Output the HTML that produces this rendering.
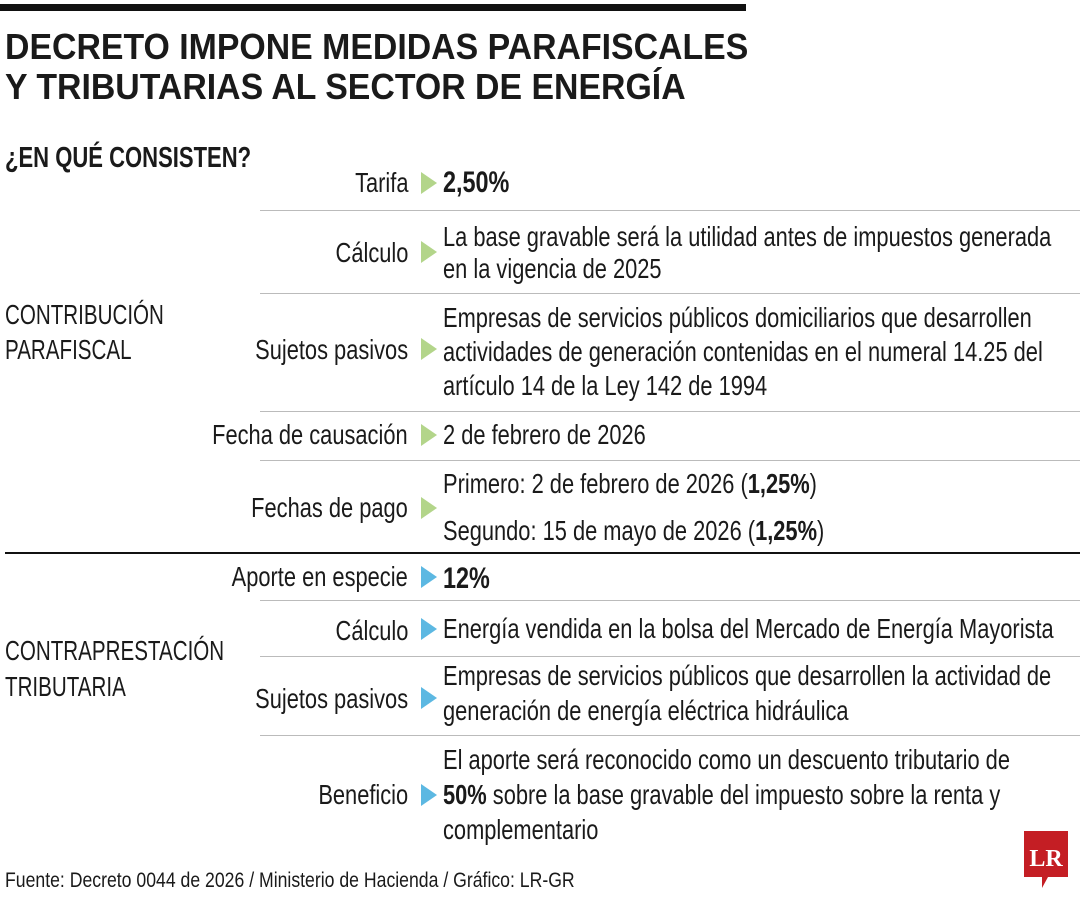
<!DOCTYPE html><html><head><meta charset="utf-8"><style>
body{margin:0;width:1080px;height:900px;background:#fff;position:relative;overflow:hidden;font-family:"Liberation Sans",sans-serif;color:#1a1a1a}
.t{position:absolute;white-space:nowrap;font-size:28px;line-height:34px;transform:scaleX(.78);transform-origin:0 50%}
.l{transform:scaleX(.735)}
.r{transform-origin:100% 50%;text-align:right}
.b{font-weight:bold}
.h{position:absolute;left:0;height:1px;background:#bbb}
.ag,.ab{position:absolute;left:421px;width:0;height:0;border-top:11px solid transparent;border-bottom:11px solid transparent;border-left:16px solid #b3d58a}
.ab{border-left-color:#5cb8e2}
</style></head><body>
<div style="position:absolute;left:0;top:4px;width:746px;height:7px;background:#111"></div>
<div class="t b" style="left:5px;top:26px;font-size:36px;line-height:42px;transform:scaleX(.94)">DECRETO IMPONE MEDIDAS PARAFISCALES</div>
<div class="t b" style="left:5px;top:66px;font-size:36px;line-height:42px;transform:scaleX(.94)">Y TRIBUTARIAS AL SECTOR DE ENERGÍA</div>
<div class="t b" style="left:5px;top:141px;font-size:29px;transform:scaleX(.76)">¿EN QUÉ CONSISTEN?</div>

<div class="t l" style="left:5px;top:298px">CONTRIBUCIÓN</div>
<div class="t l" style="left:5px;top:333px">PARAFISCAL</div>
<div class="t l" style="left:5px;top:634px">CONTRAPRESTACIÓN</div>
<div class="t l" style="left:5px;top:670px">TRIBUTARIA</div>

<div class="t r" style="right:672px;top:166px">Tarifa</div>
<div class="ag" style="top:172px"></div>
<div class="t b" style="left:443px;top:166px;font-size:30px">2,50%</div>
<div class="h" style="left:260px;width:820px;top:210px"></div>

<div class="t r" style="right:672px;top:236px">Cálculo</div>
<div class="ag" style="top:241px"></div>
<div class="t" style="left:443px;top:220px">La base gravable será la utilidad antes de impuestos generada</div>
<div class="t" style="left:443px;top:252px">en la vigencia de 2025</div>
<div class="h" style="left:260px;width:820px;top:293px"></div>

<div class="t r" style="right:672px;top:333px">Sujetos pasivos</div>
<div class="ag" style="top:338px"></div>
<div class="t" style="left:443px;top:301px">Empresas de servicios públicos domiciliarios que desarrollen</div>
<div class="t" style="left:443px;top:335px">actividades de generación contenidas en el numeral 14.25 del</div>
<div class="t" style="left:443px;top:369px">artículo 14 de la Ley 142 de 1994</div>
<div class="h" style="left:260px;width:820px;top:411px"></div>

<div class="t r" style="right:672px;top:418px">Fecha de causación</div>
<div class="ag" style="top:424px"></div>
<div class="t" style="left:443px;top:418px">2 de febrero de 2026</div>
<div class="h" style="left:260px;width:820px;top:460px"></div>

<div class="t r" style="right:672px;top:491px">Fechas de pago</div>
<div class="ag" style="top:497px"></div>
<div class="t" style="left:443px;top:467px">Primero: 2 de febrero de 2026 (<b>1,25%</b>)</div>
<div class="t" style="left:443px;top:514px">Segundo: 15 de mayo de 2026 (<b>1,25%</b>)</div>
<div style="position:absolute;left:5px;width:1075px;top:552px;height:2px;background:#111"></div>

<div class="t r" style="right:672px;top:560px">Aporte en especie</div>
<div class="ab" style="top:566px"></div>
<div class="t b" style="left:443px;top:562px;font-size:30px">12%</div>
<div class="h" style="left:260px;width:820px;top:600px"></div>

<div class="t r" style="right:672px;top:614px">Cálculo</div>
<div class="ab" style="top:618px"></div>
<div class="t" style="left:443px;top:612px">Energía vendida en la bolsa del Mercado de Energía Mayorista</div>
<div class="h" style="left:260px;width:820px;top:656px"></div>

<div class="t r" style="right:672px;top:682px">Sujetos pasivos</div>
<div class="ab" style="top:687px"></div>
<div class="t" style="left:443px;top:659px">Empresas de servicios públicos que desarrollen la actividad de</div>
<div class="t" style="left:443px;top:694px">generación de energía eléctrica hidráulica</div>
<div class="h" style="left:260px;width:820px;top:735px"></div>

<div class="t r" style="right:672px;top:778px">Beneficio</div>
<div class="ab" style="top:784px"></div>
<div class="t" style="left:443px;top:743px">El aporte será reconocido como un descuento tributario de</div>
<div class="t" style="left:443px;top:778px"><b>50%</b> sobre la base gravable del impuesto sobre la renta y</div>
<div class="t" style="left:443px;top:813px">complementario</div>

<div class="t" style="left:5px;top:868px;font-size:21px;line-height:26px;transform:scaleX(.84)">Fuente: Decreto 0044 de 2026 / Ministerio de Hacienda / Gráfico: LR-GR</div>

<svg style="position:absolute;left:1022px;top:830px" width="48" height="60" viewBox="0 0 48 60">
<path d="M2 1h44v46H26l-6 11v-11H2z" fill="#c41e24"/>
<text x="24" y="36" text-anchor="middle" font-family="Liberation Serif,serif" font-weight="bold" font-size="24" fill="#fff">LR</text>
</svg>
</body></html>
